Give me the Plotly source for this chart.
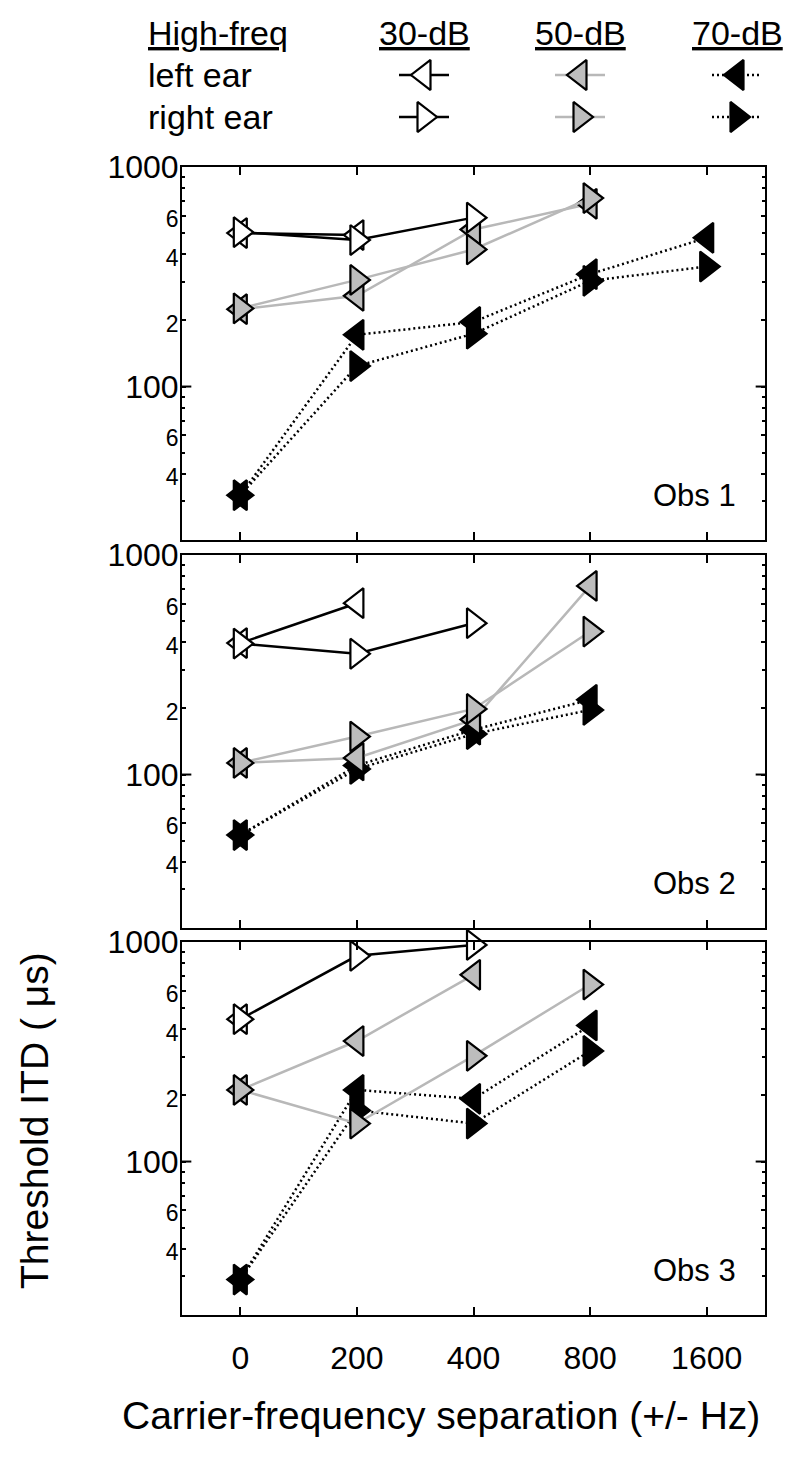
import math
import plotly.graph_objects as go

# ---------------- data ----------------
categories = ["0", "200", "400", "800", "1600"]   # carrier-frequency separation (+/- Hz)
cat_pos = [0, 1, 2, 3, 4]
obs_names = ["Obs 1", "Obs 2", "Obs 3"]
levels = ["30-dB", "50-dB", "70-dB"]

# Threshold ITD (microseconds); None = not measured
obs1_30_left = [500, 490, None, None, None]
obs1_30_right = [505, 465, 588, None, None]
obs1_50_left = [225, 259, 519, 680, None]
obs1_50_right = [227, 306, 421, 722, None]
obs1_70_left = [32, 172, 197, 325, 476]
obs1_70_right = [32, 124, 174, 303, 352]

obs2_30_left = [397, 603, None, None, None]
obs2_30_right = [395, 355, 489, None, None]
obs2_50_left = [113, 119, 178, 723, None]
obs2_50_right = [113, 149, 199, 448, None]
obs2_70_left = [53, 110, 160, 219, None]
obs2_70_right = [53, 106, 153, 197, None]

obs3_30_left = [445, None, None, None, None]
obs3_30_right = [445, 865, 970, None, None]
obs3_50_left = [212, 354, 709, None, None]
obs3_50_right = [212, 149, 303, 640, None]
obs3_70_left = [29, 212, 193, 417, None]
obs3_70_right = [29, 171, 149, 319, None]

y_tickvals = [40, 60, 100, 200, 400, 600, 1000]
y_ticklabels = ["4", "6", "100", "2", "4", "6", "1000"]
y_minor_vals = [30, 50, 70, 80, 90, 300, 500, 700, 800, 900]

panels = [
    {"30": (obs1_30_left, obs1_30_right), "50": (obs1_50_left, obs1_50_right), "70": (obs1_70_left, obs1_70_right)},
    {"30": (obs2_30_left, obs2_30_right), "50": (obs2_50_left, obs2_50_right), "70": (obs2_70_left, obs2_70_right)},
    {"30": (obs3_30_left, obs3_30_right), "50": (obs3_50_left, obs3_50_right), "70": (obs3_70_left, obs3_70_right)},
]

# ---------------- styling / layout ----------------
FONT = "Liberation Sans, Arial, Helvetica, sans-serif"
SCREEN_W, SCREEN_H = 800, 1457
BODY = 8                      # default page body margin offsets the figure
W, H = SCREEN_W - BODY, SCREEN_H - BODY
# plot area in screen pixels
PL, PR, PT, PB = 182, 765, 18, 1315
ML, MR, MT, MB = PL - BODY, SCREEN_W - PR, PT - BODY, SCREEN_H - PB


def py(p):
    return (PB - p) / (PB - PT)


def px(p):
    return (p - PL) / (PR - PL)


panel_px = [(167, 540), (555, 928), (942, 1315)]

GRAY_LINE = "#b8b8b8"
GRAY_FILL = "#bdbdbd"
style = {
    "30": dict(line=dict(color="black", width=2.5, dash="solid"), fill="white"),
    "50": dict(line=dict(color=GRAY_LINE, width=2.5, dash="solid"), fill=GRAY_FILL),
    "70": dict(line=dict(color="black", width=2.5, dash="2px,3px"), fill="black"),
}
MSIZE = 26

fig = go.Figure()

for i, pdata in enumerate(panels):
    n = "" if i == 0 else str(i + 1)
    for lv in ["70", "50", "30"]:
        left, right = pdata[lv]
        for vals, sym in ((left, "triangle-left"), (right, "triangle-right")):
            xs = [c for c, v in zip(cat_pos, vals) if v is not None]
            ys = [v for v in vals if v is not None]
            fig.add_trace(go.Scatter(
                x=xs, y=ys, mode="lines+markers",
                xaxis="x" + n, yaxis="y" + n,
                line=style[lv]["line"],
                marker=dict(symbol=sym, size=MSIZE, color=style[lv]["fill"],
                            line=dict(color="black", width=2.2)),
                cliponaxis=False, showlegend=False, hoverinfo="skip"))

# ---------- manual legend (keys drawn on a hidden overlay axis in screen-px units) ----------
legend_key_x = [424, 580, 737]
legend_row_y = {"left": 75, "right": 117}
for lv, kx in zip(["30", "50", "70"], legend_key_x):
    for row, sym in (("left", "triangle-left"), ("right", "triangle-right")):
        ry = legend_row_y[row]
        fig.add_trace(go.Scatter(
            x=[kx - 25, kx + 25], y=[ry, ry], mode="lines", xaxis="x4", yaxis="y4",
            line=style[lv]["line"], showlegend=False, hoverinfo="skip", cliponaxis=False))
        fig.add_trace(go.Scatter(
            x=[kx], y=[ry], mode="markers", xaxis="x4", yaxis="y4",
            marker=dict(symbol=sym, size=MSIZE, color=style[lv]["fill"],
                        line=dict(color="black", width=2.2)),
            showlegend=False, hoverinfo="skip", cliponaxis=False))

layout = dict(
    width=W, height=H, paper_bgcolor="white", plot_bgcolor="white",
    margin=dict(l=ML, r=MR, t=MT, b=MB, autoexpand=False),
    font=dict(family=FONT, color="black"),
    showlegend=False,
)

ticktext = []
for t in y_ticklabels:
    if t in ("100", "1000"):
        ticktext.append(t)
    else:
        ticktext.append("<span style='font-size:23px'>" + t + "</span>")

shapes = []
annotations = []
for i, (top, bot) in enumerate(panel_px):
    n = "" if i == 0 else str(i + 1)
    key = "" if i == 0 else str(i + 1)
    layout["xaxis" + key] = dict(
        domain=[0, 1], anchor="y" + n, range=[-0.5, 4.5],
        tickmode="array", tickvals=cat_pos, ticktext=categories,
        ticks="inside", ticklen=8, tickwidth=2, tickcolor="black",
        showline=True, linewidth=2, linecolor="black", mirror="ticks",
        showgrid=False, zeroline=False, showticklabels=(i == 2), automargin=False,
        tickfont=dict(family=FONT, size=32, color="black"),
        ticklabelstandoff=14,
    )
    layout["yaxis" + key] = dict(
        domain=[py(bot), py(top)], anchor="x" + n, type="log",
        range=[math.log10(20), 3], automargin=False,
        tickmode="array", tickvals=y_tickvals, ticktext=ticktext,
        ticks="inside", ticklen=4, tickwidth=2, tickcolor="black",
        showline=True, linewidth=2, linecolor="black", mirror="ticks",
        showgrid=False, zeroline=False, ticklabelstandoff=-5,
        tickfont=dict(family=FONT, size=32, color="black"),
        minor=dict(tickmode="array", tickvals=y_minor_vals, ticks="inside",
                   ticklen=3, tickwidth=2, tickcolor="black", showgrid=False),
    )
    for x0, x1 in ((0, 0.016), (0.984, 1)):
        shapes.append(dict(type="line", xref="x" + n + " domain", yref="y" + n,
                           x0=x0, x1=x1, y0=100, y1=100,
                           line=dict(color="black", width=2)))
    annotations.append(dict(
        text=obs_names[i], xref="paper", yref="paper", x=px(738), y=py(bot - 45),
        xanchor="right", yanchor="middle", showarrow=False,
        font=dict(family=FONT, size=31, color="black")))

layout["xaxis4"] = dict(domain=[0, 1], anchor="y4", range=[PL, PR], visible=False, automargin=False)
layout["yaxis4"] = dict(domain=[py(150), 1], anchor="x4", range=[150, PT], visible=False, automargin=False)

# legend texts
for txt, yy in (("<u>High-freq</u>", 33), ("left ear", 75), ("right ear", 117)):
    annotations.append(dict(text=txt, xref="paper", yref="paper", x=px(146), y=py(yy),
                            xanchor="left", yanchor="middle", showarrow=False,
                            font=dict(family=FONT, size=34, color="black")))
for lv, kx in zip(levels, legend_key_x):
    annotations.append(dict(text="<u>" + lv + "</u>", xref="paper", yref="paper", x=px(kx), y=py(33),
                            xanchor="center", yanchor="middle", showarrow=False,
                            font=dict(family=FONT, size=34, color="black")))

# axis titles
annotations.append(dict(text="Carrier-frequency separation (+/- Hz)", xref="paper", yref="paper",
                        x=px(441), y=py(1415), xanchor="center", yanchor="middle", showarrow=False,
                        font=dict(family=FONT, size=39, color="black")))
annotations.append(dict(text="Threshold ITD ( μs)", xref="paper", yref="paper",
                        x=px(34), y=py(1121), xanchor="center", yanchor="middle", showarrow=False,
                        textangle=-90, font=dict(family=FONT, size=39, color="black")))

layout["shapes"] = shapes
layout["annotations"] = annotations
fig.update_layout(**layout)

fig.write_html("out.html")
